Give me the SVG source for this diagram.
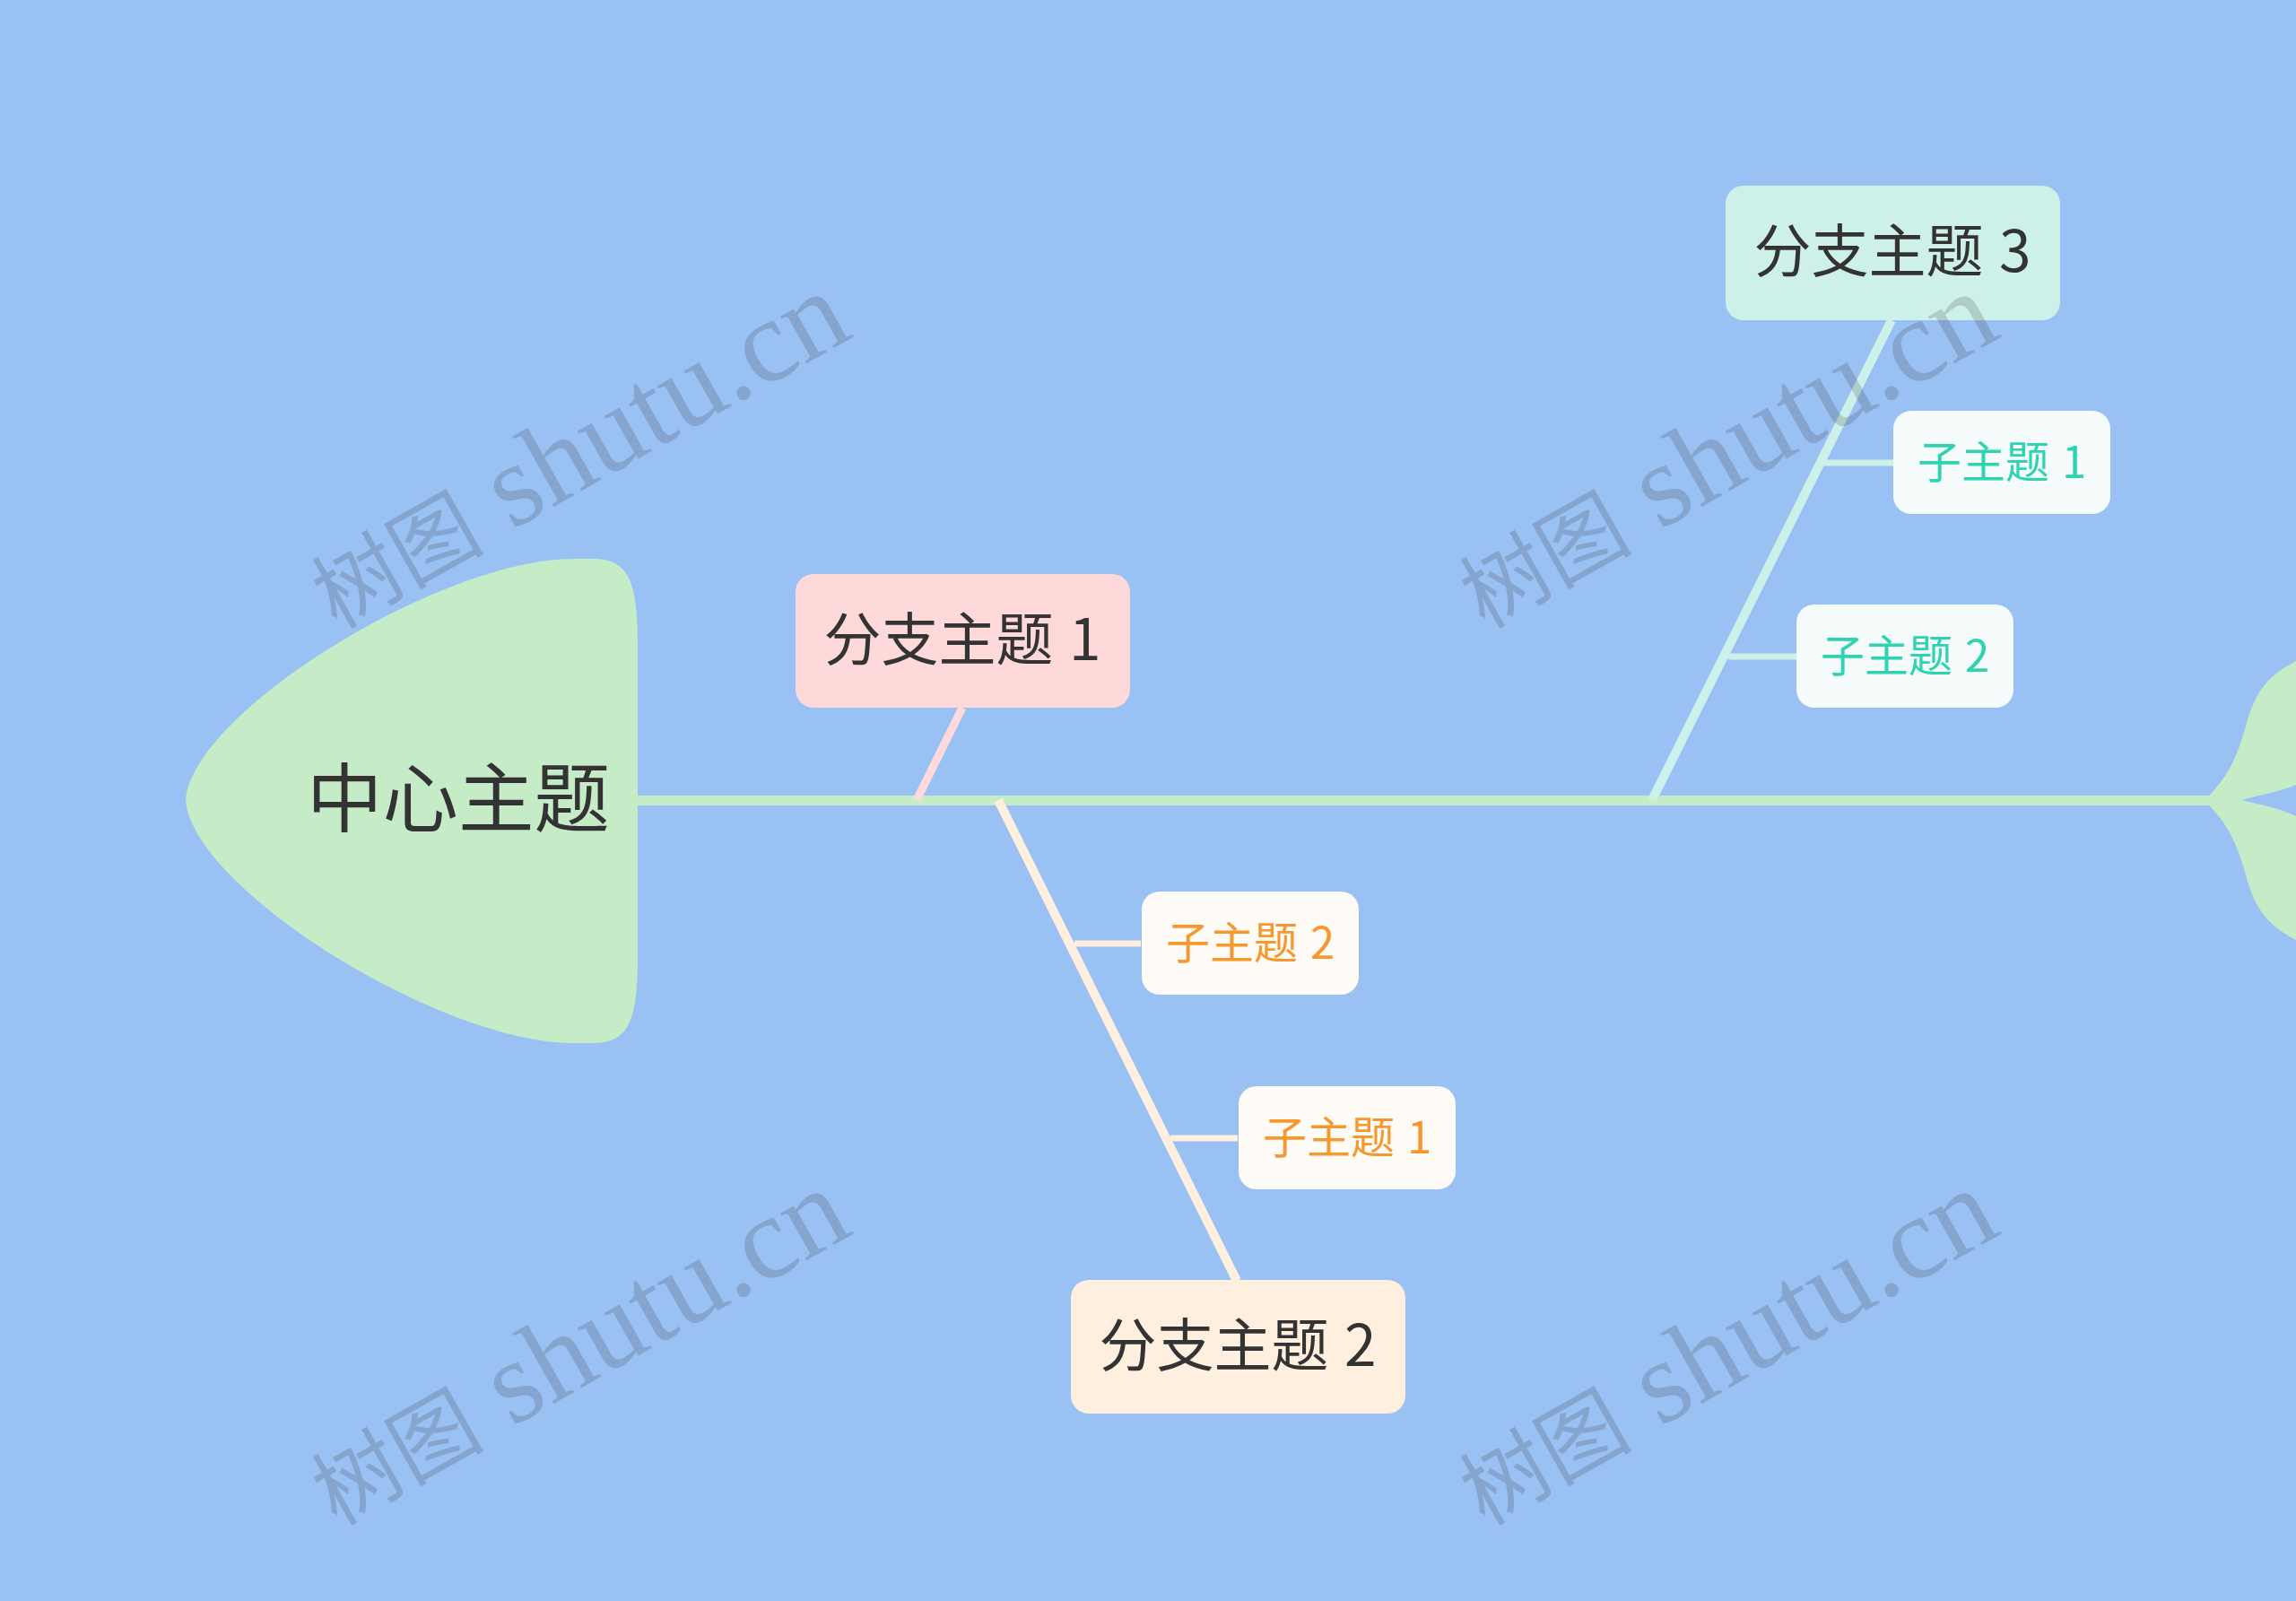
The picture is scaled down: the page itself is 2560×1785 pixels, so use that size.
<svg xmlns="http://www.w3.org/2000/svg" width="2560" height="1785" viewBox="0 0 2560 1785">
<defs>
<style>
text{font-family:"Noto Sans CJK SC","Noto Sans",sans-serif;text-anchor:middle}
.b{font-size:64px;fill:#333;word-spacing:3px}
.s{font-size:49px;word-spacing:3px}
.t{fill:#2ed3b1}
.o{fill:#f7982f}
.l{fill:none;stroke-linecap:butt}
.wm{font-family:"Liberation Serif","Noto Sans CJK SC",serif;font-size:131px;fill:#222;opacity:.17;text-anchor:start}
.cj{font-size:96px}
</style>
<g id="wmk"><text class="wm" transform="translate(375 702) rotate(-29.500)"><tspan class="cj">树图</tspan> shutu.cn</text></g>
</defs>
<rect width="2560" height="1785" fill="#9ac1f3"/>
<g id="connectors">
<path class="l" d="M711 892.500H2470" stroke="#c5ebc7" stroke-width="11"/>
<path class="l" d="M1073 789L1022 892" stroke="#fedada" stroke-width="9"/>
<path class="l" d="M1113 892L1379 1428" stroke="#ffefdf" stroke-width="10"/>
<path class="l" d="M2109 357L1842 892" stroke="#cdf1e9" stroke-width="10"/>
<path class="l" d="M1198 1052H1272" stroke="#ffefdf" stroke-width="7"/>
<path class="l" d="M1305 1269H1380" stroke="#ffefdf" stroke-width="7"/>
<path class="l" d="M2034 516H2111" stroke="#cdf1e9" stroke-width="7"/>
<path class="l" d="M1927 732H2003" stroke="#cdf1e9" stroke-width="7"/>
</g>
<g id="tail"><path d="M2463 887C2482 868 2493 848 2503 813C2513 775 2525 755 2560 737V875C2545 882 2520 886 2499 892C2520 897 2545 902 2560 910V1048C2525 1030 2513 1010 2503 972C2493 937 2482 917 2463 898Z" fill="#c5ebc7"/></g>
<g id="center"><path d="M207 892C214 795 490 623 640 623H660C700 623 711 645 711 720V1066C711 1141 700 1163 660 1163H640C490 1163 214 990 207 892Z" fill="#c5ebc7"/>
<text x="511" y="921" font-size="84.500" fill="#333">中心主题</text></g>
<g id="branch1"><rect x="887" y="640" width="373" height="149" rx="20" fill="#fed9d9"/><text class="b" x="1073" y="736">分支主题 1</text></g>
<g id="branch2"><rect x="1194" y="1427" width="373" height="149" rx="20" fill="#ffefdf"/><text class="b" x="1380" y="1523">分支主题 2</text></g>
<g id="branch3"><rect x="1924" y="207" width="373" height="150" rx="20" fill="#cdf1e9"/><text class="b" x="2110" y="303">分支主题 3</text></g>
<g id="sub2-2"><rect x="1273" y="994" width="242" height="115" rx="20" fill="#fffcf8"/><text class="s o" x="1394" y="1069">子主题 2</text></g>
<g id="sub2-1"><rect x="1381" y="1211" width="242" height="115" rx="20" fill="#fffcf8"/><text class="s o" x="1502" y="1286">子主题 1</text></g>
<g id="sub3-1"><rect x="2111" y="458" width="242" height="115" rx="20" fill="#f6fcfc"/><text class="s t" x="2232" y="533">子主题 1</text></g>
<g id="sub3-2"><rect x="2003" y="674" width="242" height="115" rx="20" fill="#f6fcfc"/><text class="s t" x="2124" y="749">子主题 2</text></g>
<g id="watermarks">
<use href="#wmk"/>
<use href="#wmk" x="1280"/>
<use href="#wmk" y="1000"/>
<use href="#wmk" x="1280" y="1000"/>
</g>
</svg>
